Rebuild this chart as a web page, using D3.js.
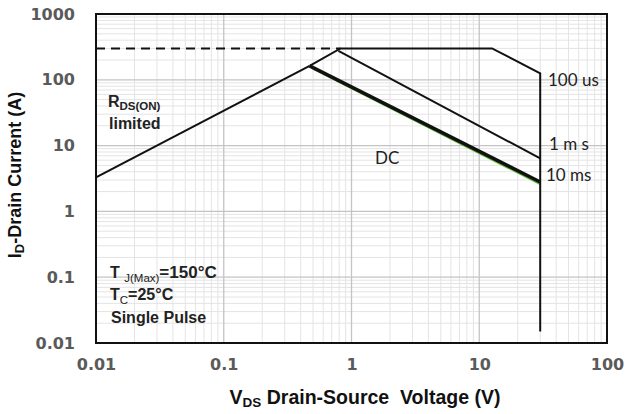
<!DOCTYPE html>
<html>
<head>
<meta charset="utf-8">
<script src="https://cdn.jsdelivr.net/npm/d3@7"></script>
<style>
  body { margin: 0; background: #fff; }
</style>
</head>
<body>
<svg id="chart"></svg>
<script>
// Safe operating area curves (V, A)
const xTicks = [0.01, 0.1, 1, 10, 100];
const yTicks = [0.01, 0.1, 1, 10, 100, 1000];
const rdsV = [0.01, 0.47];
const rdsI = [3.3, 163];
const limitV = [0.01, 0.82];
const limitI = [300, 300];
const us100V = [0.47, 0.82, 12.6, 30, 30];
const us100I = [163, 300, 300, 125, 0.015];
const ms1V = [0.79, 30];
const ms1I = [275, 6.4];
const ms10V = [0.47, 30];
const ms10I = [163, 2.8];
const dcV = [0.49, 30];
const dcI = [150, 2.6];

const width = 627, height = 414;
const plotL = 96, plotR = 607, plotT = 14, plotB = 343;

const svg = d3.select("#chart").attr("width", width).attr("height", height)
   .attr("font-family", "Liberation Sans, Arial, sans-serif");

const x = d3.scaleLog().domain([0.01, 100]).range([plotL, plotR]);
const y = d3.scaleLog().domain([0.01, 1000]).range([plotB, plotT]);

// minor grid
const minorX = [], minorY = [];
for (let d = 0.01; d < 99; d *= 10) for (let k = 2; k <= 9; k++) minorX.push(d * k);
for (let d = 0.01; d < 999; d *= 10) for (let k = 2; k <= 9; k++) minorY.push(d * k);

svg.append("g").selectAll("line").data(minorX).enter().append("line")
   .attr("x1", d => x(d)).attr("x2", d => x(d))
   .attr("y1", plotT).attr("y2", plotB)
   .attr("stroke", "#e4e4e4").attr("stroke-width", 1);
svg.append("g").selectAll("line").data(minorY).enter().append("line")
   .attr("y1", d => y(d)).attr("y2", d => y(d))
   .attr("x1", plotL).attr("x2", plotR)
   .attr("stroke", "#e4e4e4").attr("stroke-width", 1);

// major grid
svg.append("g").selectAll("line").data(xTicks).enter().append("line")
   .attr("x1", d => x(d)).attr("x2", d => x(d))
   .attr("y1", plotT).attr("y2", plotB)
   .attr("stroke", "#c4c4c4").attr("stroke-width", 1.3);
svg.append("g").selectAll("line").data(yTicks).enter().append("line")
   .attr("y1", d => y(d)).attr("y2", d => y(d))
   .attr("x1", plotL).attr("x2", plotR)
   .attr("stroke", "#c4c4c4").attr("stroke-width", 1.3);

// plot border
svg.append("rect")
   .attr("x", plotL).attr("y", plotT)
   .attr("width", plotR - plotL).attr("height", plotB - plotT)
   .attr("fill", "none").attr("stroke", "#111").attr("stroke-width", 2);

// tick labels via axes
const xAxis = d3.axisBottom(x).tickValues(xTicks).tickFormat(d => String(d)).tickSize(0).tickPadding(16);
const yAxis = d3.axisLeft(y).tickValues(yTicks).tickFormat(d => String(d)).tickSize(0).tickPadding(21);

const gx = svg.append("g").attr("transform", `translate(0,${plotB})`).call(xAxis);
const gy = svg.append("g").attr("transform", `translate(${plotL},0)`).call(yAxis);
[gx, gy].forEach(g => {
   g.attr("font-family", "DejaVu Sans, sans-serif").attr("font-size", 16);
   g.select(".domain").remove();
   g.selectAll("text").attr("font-weight", "bold").attr("fill", "#5a5a5a");
});

const line = d3.line().x(d => x(d[0])).y(d => y(d[1]));
const pts = (vs, is) => vs.map((v, i) => [v, is[i]]);

// DC (green, under the 10 ms line)
svg.append("path").attr("d", line(pts(dcV, dcI)))
   .attr("fill", "none").attr("stroke", "#5cb83a").attr("stroke-width", 2);
svg.append("path").attr("d", line(pts(ms10V, ms10I)))
   .attr("fill", "none").attr("stroke", "#111").attr("stroke-width", 3.5);
svg.append("path").attr("d", line(pts(ms1V, ms1I)))
   .attr("fill", "none").attr("stroke", "#111").attr("stroke-width", 2);
svg.append("path").attr("d", line(pts(us100V, us100I)))
   .attr("fill", "none").attr("stroke", "#111").attr("stroke-width", 2)
   .attr("stroke-linejoin", "miter");
svg.append("path").attr("d", line(pts(rdsV, rdsI)))
   .attr("fill", "none").attr("stroke", "#111").attr("stroke-width", 2);
svg.append("path").attr("d", line(pts(limitV, limitI)))
   .attr("fill", "none").attr("stroke", "#111").attr("stroke-width", 2)
   .attr("stroke-dasharray", "9,6");

// annotations
const ann = svg.append("g").attr("fill", "#222").attr("font-weight", "bold");
const r = ann.append("text").attr("x", 108).attr("y", 107).attr("font-size", 16);
r.append("tspan").text("R");
r.append("tspan").attr("font-size", 11.5).attr("dy", 2.5).text("DS(ON)");
ann.append("text").attr("x", 109).attr("y", 129).attr("font-size", 16).text("limited");

const t1 = ann.append("text").attr("x", 110).attr("y", 278).attr("font-size", 16);
t1.append("tspan").text("T ");
t1.append("tspan").attr("font-size", 11.5).attr("font-weight", "normal").attr("dy", 4).text("J(Max)");
t1.append("tspan").attr("dy", -4).attr("font-size", 17).text("=150\u00B0C");
const t2 = ann.append("text").attr("x", 110).attr("y", 300).attr("font-size", 16);
t2.append("tspan").text("T");
t2.append("tspan").attr("font-size", 11.5).attr("font-weight", "normal").attr("dy", 4).text("C");
t2.append("tspan").attr("dy", -4).text("=25\u00B0C");
ann.append("text").attr("x", 111).attr("y", 323).attr("font-size", 16).text("Single Pulse");

const lab = svg.append("g").attr("fill", "#222").attr("font-family", "Lato, 'Open Sans', sans-serif");
lab.append("text").attr("x", 375).attr("y", 164).attr("font-size", 17).text("DC");
lab.append("text").attr("x", 548).attr("y", 86).attr("font-size", 17).text("100 us");
lab.append("text").attr("x", 549).attr("y", 150).attr("font-size", 17).text("1 m s");
lab.append("text").attr("x", 546).attr("y", 181).attr("font-size", 17).text("10 ms");

// axis titles
const xt = svg.append("text").attr("x", 365).attr("y", 404).attr("text-anchor", "middle")
   .style("white-space", "pre")
   .attr("font-size", 19.5).attr("font-weight", "bold").attr("fill", "#111");
xt.append("tspan").text("V");
xt.append("tspan").attr("font-size", 13.5).attr("dy", 3).text("DS");
xt.append("tspan").attr("dy", -3).text(" Drain-Source  Voltage (V)");

const yt = svg.append("text").attr("transform", "translate(21,175) rotate(-90)")
   .attr("text-anchor", "middle")
   .attr("font-size", 18).attr("font-weight", "bold").attr("fill", "#111");
yt.append("tspan").text("I");
yt.append("tspan").attr("font-size", 13).attr("dy", 3).text("D");
yt.append("tspan").attr("dy", -3).text("-Drain Current (A)");
</script>
</body>
</html>
